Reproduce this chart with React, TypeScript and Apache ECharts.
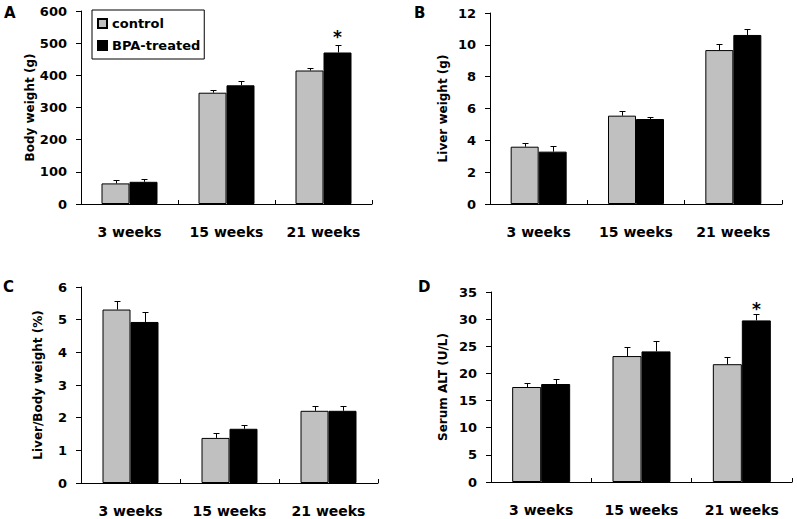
import React, { useEffect, useRef } from "react";
import * as echarts from "echarts";

const categories = ["3 weeks", "15 weeks", "21 weeks"];

const bodyControl = [64, 346, 415];
const bodyControlSem = [10, 8, 9];
const bodyBpa = [69, 369, 471];
const bodyBpaSem = [8, 12, 22];
const bodySig = [false, false, true];

const liverControl = [3.6, 5.55, 9.67];
const liverControlSem = [0.25, 0.31, 0.4];
const liverBpa = [3.29, 5.34, 10.62];
const liverBpaSem = [0.35, 0.14, 0.37];
const liverSig = [false, false, false];

const ratioControl = [5.31, 1.38, 2.21];
const ratioControlSem = [0.25, 0.15, 0.15];
const ratioBpa = [4.93, 1.66, 2.21];
const ratioBpaSem = [0.29, 0.12, 0.15];
const ratioSig = [false, false, false];

const altControl = [17.5, 23.2, 21.7];
const altControlSem = [0.7, 1.66, 1.4];
const altBpa = [18.05, 24.06, 29.77];
const altBpaSem = [0.92, 1.84, 1.1];
const altSig = [false, false, true];

const FONT = "DejaVu Sans";

const panels = [
  {
    letter: "A", yName: "Body weight (g)", max: 600, interval: 100,
    control: bodyControl, controlSem: bodyControlSem, bpa: bodyBpa, bpaSem: bodyBpaSem, sig: bodySig,
    grid: { left: 81, top: 11, width: 291, height: 193 }, nameGap: 44, barW: 28, letterX: 4, letterY: 5, starDist: 7,
  },
  {
    letter: "B", yName: "Liver weight (g)", max: 12, interval: 2,
    control: liverControl, controlSem: liverControlSem, bpa: liverBpa, bpaSem: liverBpaSem, sig: liverSig,
    grid: { left: 490, top: 13, width: 292, height: 191 }, nameGap: 41, barW: 28, letterX: 414, letterY: 5, starDist: 7,
  },
  {
    letter: "C", yName: "Liver/Body weight (%)", max: 6, interval: 1,
    control: ratioControl, controlSem: ratioControlSem, bpa: ratioBpa, bpaSem: ratioBpaSem, sig: ratioSig,
    grid: { left: 81, top: 287, width: 297, height: 196 }, nameGap: 37, barW: 28, letterX: 3, letterY: 279, starDist: 7,
  },
  {
    letter: "D", yName: "Serum ALT (U/L)", max: 35, interval: 5,
    control: altControl, controlSem: altControlSem, bpa: altBpa, bpaSem: altBpaSem, sig: altSig,
    grid: { left: 491, top: 292, width: 301, height: 190 }, nameGap: 42, barW: 29, letterX: 418, letterY: 279, starDist: 3,
  },
];

function errorSeries(idx: number, means: number[], sems: number[], offset: number) {
  return {
    type: "custom",
    xAxisIndex: idx,
    yAxisIndex: idx,
    silent: true,
    z: 5,
    data: means.map((m, i) => [i, m, sems[i]]),
    encode: { x: 0, y: 1 },
    renderItem: (params: any, api: any) => {
      const cat = api.value(0);
      const mean = api.value(1);
      const sem = api.value(2);
      const base = api.coord([cat, mean]);
      const top = api.coord([cat, mean + sem]);
      const x = Math.round(base[0] + offset) + 0.5;
      const yt = Math.round(top[1]) + 0.5;
      return {
        type: "group",
        children: [
          { type: "line", shape: { x1: x, y1: base[1], x2: x, y2: yt }, style: { stroke: "#000", lineWidth: 1 } },
          { type: "line", shape: { x1: x - 3, y1: yt, x2: x + 3, y2: yt }, style: { stroke: "#000", lineWidth: 1 } },
        ],
      };
    },
  };
}

export default function App() {
  const ref = useRef<HTMLDivElement>(null);
  useEffect(() => {
    if (!ref.current) return;
    const chart = echarts.init(ref.current, null, { renderer: "svg" });
    const grids: any[] = [];
    const xAxes: any[] = [];
    const yAxes: any[] = [];
    const series: any[] = [];
    const graphics: any[] = [];
    panels.forEach((p, idx) => {
      grids.push({ ...p.grid, containLabel: false });
      xAxes.push({
        type: "category",
        gridIndex: idx,
        data: categories,
        axisLine: { lineStyle: { color: "#000", width: 1 } },
        axisTick: { show: true, inside: true, length: 4, lineStyle: { color: "#000" } },
        axisLabel: { color: "#000", fontFamily: FONT, fontWeight: "bold", fontSize: 14, margin: 21 },
      });
      yAxes.push({
        type: "value",
        gridIndex: idx,
        min: 0,
        max: p.max,
        interval: p.interval,
        name: p.yName,
        nameLocation: "middle",
        nameGap: p.nameGap,
        nameTextStyle: { color: "#000", fontFamily: FONT, fontWeight: "bold", fontSize: 12 },
        axisLine: { show: true, lineStyle: { color: "#000", width: 1 } },
        axisTick: { show: true, length: 5, lineStyle: { color: "#000" } },
        axisLabel: { color: "#000", fontFamily: FONT, fontWeight: "bold", fontSize: 13, margin: 14 },
        splitLine: { show: false },
      });
      series.push({
        type: "bar",
        name: "control",
        xAxisIndex: idx,
        yAxisIndex: idx,
        barWidth: p.barW,
        barGap: "0%",
        itemStyle: { color: "#c0c0c0", borderColor: "#000", borderWidth: 1 },
        data: p.control,
      });
      series.push({
        type: "bar",
        name: "BPA-treated",
        xAxisIndex: idx,
        yAxisIndex: idx,
        barWidth: p.barW,
        barGap: "0%",
        itemStyle: { color: "#000", borderColor: "#000", borderWidth: 1 },
        data: p.bpa.map((v, i) =>
          p.sig[i]
            ? {
                value: v,
                label: {
                  show: true,
                  position: "top",
                  formatter: "*",
                  distance: p.starDist,
                  color: "#000",
                  fontFamily: FONT,
                  fontWeight: "bold",
                  fontSize: 17,
                },
              }
            : v
        ),
      });
      series.push(errorSeries(idx, p.control, p.controlSem, -p.barW / 2));
      series.push(errorSeries(idx, p.bpa, p.bpaSem, p.barW / 2));
      graphics.push({
        type: "text",
        left: p.letterX,
        top: p.letterY,
        style: { text: p.letter, fill: "#000", font: `bold 15px "${FONT}"` },
      });
    });
    chart.setOption({
      animation: false,
      backgroundColor: "#fff",
      grid: grids,
      xAxis: xAxes,
      yAxis: yAxes,
      series,
      graphic: graphics,
      legend: {
        data: ["control", "BPA-treated"],
        orient: "vertical",
        left: 92,
        top: 10,
        icon: "rect",
        itemWidth: 9,
        itemHeight: 9,
        itemGap: 9,
        padding: [7, 4, 7, 5],
        borderColor: "#000",
        borderWidth: 1,
        borderRadius: 0,
        selectedMode: false,
        textStyle: { color: "#000", fontFamily: FONT, fontWeight: "bold", fontSize: 13, padding: [0, 0, 0, 0] },
      },
    });
    return () => chart.dispose();
  }, []);
  return <div ref={ref} style={{ position: "fixed", left: 0, top: 0, width: 797, height: 519 }} />;
}
